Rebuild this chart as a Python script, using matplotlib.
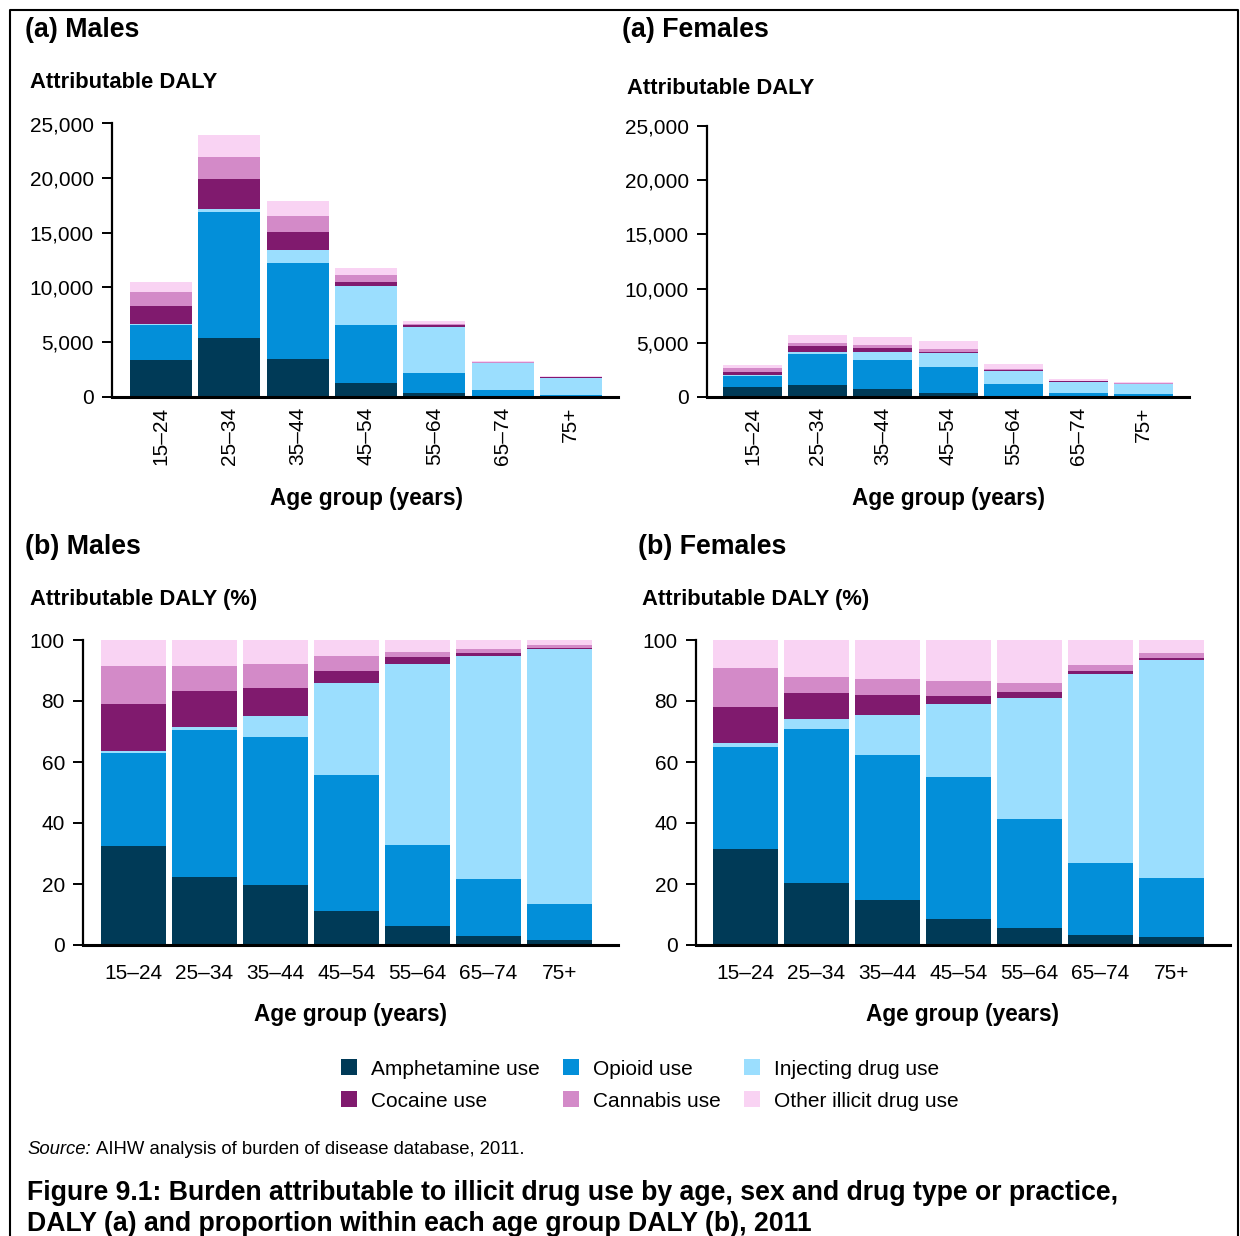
import matplotlib.pyplot as plt
from matplotlib.patches import Patch
from matplotlib.lines import Line2D

plt.rcParams['font.family'] = ['Liberation Sans', 'DejaVu Sans']

# data
ages = ['15–24', '25–34', '35–44', '45–54', '55–64', '65–74', '75+']
drugs = ['Amphetamine use', 'Opioid use', 'Injecting drug use',
         'Cocaine use', 'Cannabis use', 'Other illicit drug use']
colors = ['#003A57', '#038FD9', '#9BDEFE', '#801A6E', '#D38AC8', '#F9D3F3']

# (a) attributable DALY
m_amph = [3350, 5370, 3450, 1250, 340, 80, 40]
m_opioid = [3240, 11520, 8780, 5300, 1820, 530, 110]
m_inject = [90, 270, 1180, 3570, 4210, 2470, 1560]
m_cocaine = [1610, 2750, 1650, 370, 180, 30, 90]
m_cannabis = [1280, 2010, 1460, 640, 130, 60, 30]
m_other = [920, 2010, 1380, 640, 240, 90, 60]

f_amph = [900, 1090, 710, 340, 100, 50, 40]
f_opioid = [1030, 2890, 2710, 2420, 1080, 290, 210]
f_inject = [60, 180, 740, 1310, 1210, 1030, 930]
f_cocaine = [310, 560, 370, 90, 90, 60, 30]
f_cannabis = [370, 280, 280, 280, 100, 30, 100]
f_other = [280, 750, 750, 750, 460, 190, 70]

# (b) share of age group DALY (%)
mp_amph = [32.4, 22.2, 19.6, 11.1, 6.2, 2.9, 1.6]
mp_opioid = [30.7, 48.4, 48.7, 44.8, 26.5, 18.7, 11.8]
mp_inject = [0.6, 1.0, 6.9, 30.0, 59.5, 73.2, 83.7]
mp_cocaine = [15.4, 11.7, 9.1, 4.0, 2.2, 1.0, 0.3]
mp_cannabis = [12.4, 8.2, 7.9, 4.9, 1.7, 1.3, 1.0]
mp_other = [8.5, 8.5, 7.8, 5.2, 3.9, 2.9, 1.6]

fp_amph = [31.4, 20.3, 14.7, 8.5, 5.6, 3.3, 2.6]
fp_opioid = [33.6, 50.6, 47.7, 46.7, 35.6, 23.5, 19.3]
fp_inject = [1.3, 3.3, 13.1, 23.9, 39.8, 62.1, 71.6]
fp_cocaine = [11.8, 8.5, 6.5, 2.6, 2.0, 1.0, 0.6]
fp_cannabis = [12.7, 5.2, 5.3, 4.9, 2.9, 1.9, 1.7]
fp_other = [9.2, 12.1, 12.7, 13.4, 14.1, 8.2, 4.2]

daly_ticks = [0, 5000, 10000, 15000, 20000, 25000]
daly_labels = ['0', '5,000', '10,000', '15,000', '20,000', '25,000']
pct_ticks = [0, 20, 40, 60, 80, 100]

W, H = 1240, 1236
fig = plt.figure(figsize=(12.4, 12.36), dpi=100)


def px_axes(l, r, t, b):
    return fig.add_axes([l / W, 1 - b / H, (r - l) / W, (b - t) / H])


def stacked(ax, series, width):
    x = range(len(ages))
    bottom = [0] * len(ages)
    for vals, c in zip(series, colors):
        ax.bar(x, vals, width, bottom=bottom, color=c, linewidth=0)
        bottom = [b + v for b, v in zip(bottom, vals)]
    for s in ['top', 'right']:
        ax.spines[s].set_visible(False)
    ax.spines['left'].set_linewidth(1.6)
    ax.spines['bottom'].set_linewidth(2.2)
    ax.tick_params(axis='y', length=7, width=1.4, labelsize=15, pad=6)
    ax.set_xticks(list(x))


# (a) Males
ax1 = px_axes(112, 618, 123.5, 396.7)
stacked(ax1, [m_amph, m_opioid, m_inject, m_cocaine, m_cannabis, m_other], 0.907)
ax1.set_ylim(0, 25000)
ax1.set_xlim(-0.717, 6.69)
ax1.set_yticks(daly_ticks, daly_labels)
ax1.set_xticklabels(ages, rotation=90, fontsize=15)
ax1.tick_params(axis='x', length=0, pad=7)

# (a) Females
ax2 = px_axes(707, 1189, 126, 397)
stacked(ax2, [f_amph, f_opioid, f_inject, f_cocaine, f_cannabis, f_other], 0.905)
ax2.set_ylim(0, 25000)
ax2.set_xlim(-0.698, 6.695)
ax2.set_yticks(daly_ticks, daly_labels)
ax2.set_xticklabels(ages, rotation=90, fontsize=15)
ax2.tick_params(axis='x', length=0, pad=7)

# (b) Males
ax3 = px_axes(83, 618, 640, 945)
stacked(ax3, [mp_amph, mp_opioid, mp_inject, mp_cocaine, mp_cannabis, mp_other], 0.915)
ax3.set_ylim(0, 100)
ax3.set_xlim(-0.711, 6.824)
ax3.set_yticks(pct_ticks)
ax3.set_xticklabels(ages, fontsize=15)
ax3.tick_params(axis='x', length=0, pad=13.5)

# (b) Females
ax4 = px_axes(696, 1230, 640, 945)
stacked(ax4, [fp_amph, fp_opioid, fp_inject, fp_cocaine, fp_cannabis, fp_other], 0.915)
ax4.set_ylim(0, 100)
ax4.set_xlim(-0.697, 6.824)
ax4.set_yticks(pct_ticks)
ax4.set_xticklabels(ages, fontsize=15)
ax4.tick_params(axis='x', length=0, pad=13.5)


def ftext(x, y, s, **kw):
    fig.text(x / W, 1 - y / H, s, va='center', **kw)


ftext(25, 30, '(a) Males', fontsize=19.3, fontweight='bold')
ftext(622, 30, '(a) Females', fontsize=19.3, fontweight='bold')
ftext(30, 82, 'Attributable DALY', fontsize=15.8, fontweight='bold')
ftext(627, 88, 'Attributable DALY', fontsize=15.8, fontweight='bold')
ftext(366, 498, 'Age group (years)', fontsize=16.3, fontweight='bold', ha='center')
ftext(948, 498, 'Age group (years)', fontsize=16.3, fontweight='bold', ha='center')

ftext(25, 547, '(b) Males', fontsize=19.3, fontweight='bold')
ftext(638, 547, '(b) Females', fontsize=19.3, fontweight='bold')
ftext(30, 600, 'Attributable DALY (%)', fontsize=15.8, fontweight='bold')
ftext(642, 600, 'Attributable DALY (%)', fontsize=15.8, fontweight='bold')
ftext(351, 1015, 'Age group (years)', fontsize=16.3, fontweight='bold', ha='center')
ftext(963, 1015, 'Age group (years)', fontsize=16.3, fontweight='bold', ha='center')

# legend, row-wise order like the original
order = [0, 3, 1, 4, 2, 5]
handles = [Patch(facecolor=colors[i], edgecolor='none') for i in order]
fig.legend(handles, [drugs[i] for i in order], ncol=3, frameon=False,
           fontsize=15, handlelength=0.8, handleheight=0.8, handletextpad=0.65,
           columnspacing=1.1, labelspacing=0.62,
           loc='center left', bbox_to_anchor=(322 / W, 1 - 1085 / H))

ftext(27, 1149, 'Source:', fontsize=13.3, style='italic')
ftext(96, 1149, 'AIHW analysis of burden of disease database, 2011.', fontsize=13.3)
ftext(27, 1193, 'Figure 9.1: Burden attributable to illicit drug use by age, sex and drug type or practice,',
      fontsize=19.2, fontweight='bold')
ftext(27, 1224, 'DALY (a) and proportion within each age group DALY (b), 2011',
      fontsize=19.2, fontweight='bold')

# page frame
fx = [10 / W, 10 / W, 1238 / W, 1238 / W]
fy = [0, 1 - 10 / H, 1 - 10 / H, 0]
fig.add_artist(Line2D(fx, fy, color='black', linewidth=1.5, transform=fig.transFigure))

fig.savefig('out.png', dpi=100)
